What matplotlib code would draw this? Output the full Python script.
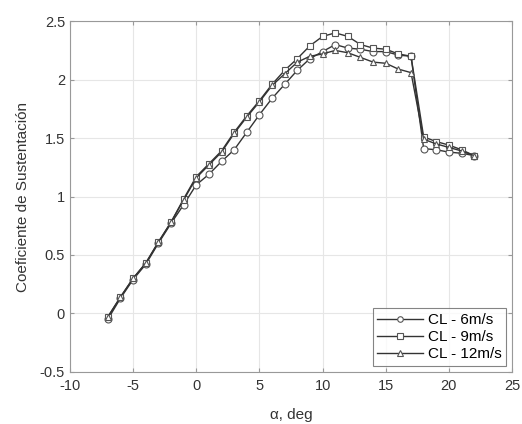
import numpy as np
import matplotlib
matplotlib.use("Agg")
import matplotlib.pyplot as plt

plt.rcParams['font.family'] = ['Liberation Sans', 'DejaVu Sans']
plt.rcParams['axes.unicode_minus'] = False

# angle of attack, deg
alpha = [-7, -6, -5, -4, -3, -2, -1, 0, 1, 2, 3, 4, 5, 6, 7, 8, 9, 10, 11, 12,
         13, 14, 15, 16, 17, 18, 19, 20, 21, 22]

cl_6 = [-0.05, 0.13, 0.29, 0.42, 0.60, 0.77, 0.93, 1.10, 1.19, 1.30, 1.40, 1.55,
        1.70, 1.84, 1.96, 2.08, 2.18, 2.24, 2.30, 2.27, 2.26, 2.24, 2.24, 2.21,
        2.20, 1.41, 1.40, 1.38, 1.37, 1.35]
cl_9 = [-0.03, 0.14, 0.30, 0.43, 0.61, 0.78, 0.98, 1.17, 1.28, 1.39, 1.55, 1.69,
        1.82, 1.96, 2.08, 2.18, 2.29, 2.37, 2.40, 2.37, 2.30, 2.27, 2.26, 2.22,
        2.20, 1.51, 1.47, 1.44, 1.40, 1.35]
cl_12 = [-0.03, 0.14, 0.30, 0.43, 0.61, 0.78, 0.97, 1.16, 1.27, 1.38, 1.54, 1.68,
         1.81, 1.95, 2.05, 2.15, 2.20, 2.22, 2.25, 2.23, 2.19, 2.15, 2.14, 2.09,
         2.06, 1.49, 1.45, 1.42, 1.39, 1.35]

labels = ['CL - 6m/s', 'CL - 9m/s', 'CL - 12m/s']
markers = ['o', 's', '^']

fig = plt.figure(figsize=(5.22, 4.24), dpi=100)
ax = fig.add_axes([0.134, 0.123, 0.847, 0.827])

for cl, lab, mk in zip([cl_6, cl_9, cl_12], labels, markers):
    ax.plot(alpha, cl, color='#333333', lw=1.0, marker=mk, ms=5,
            mfc='white', mec='#555555', mew=0.8, label=lab)

ax.set_xlim(-10, 25)
ax.set_ylim(-0.5, 2.5)
ax.set_xticks(np.arange(-10, 26, 5))
ax.set_yticks(np.arange(-0.5, 2.6, 0.5))
ax.set_yticklabels(['-0.5', '0', '0.5', '1', '1.5', '2', '2.5'])
ax.grid(True, color='#e6e6e6', lw=0.8)
ax.set_axisbelow(True)
ax.tick_params(direction='in', top=True, right=True, labelsize=10.5,
               colors='#999999', labelcolor='#333333', length=3)
ax.tick_params(axis='x', pad=5)
for s in ax.spines.values():
    s.set_color('#999999')

ax.set_xlabel('α, deg', fontsize=11, color='#333333', labelpad=11)
ax.set_ylabel('Coeficiente de Sustentación', fontsize=11, color='#333333',
              labelpad=7)

leg = ax.legend(loc='lower right', fontsize=11, frameon=True, fancybox=False,
                edgecolor='#666666', handlelength=3.0, borderpad=0.3,
                labelspacing=0.2, handletextpad=0.3, borderaxespad=0.4,
                markerscale=0.8)
leg.get_frame().set_linewidth(0.8)

fig.savefig('out.png', dpi=100, facecolor='white')
